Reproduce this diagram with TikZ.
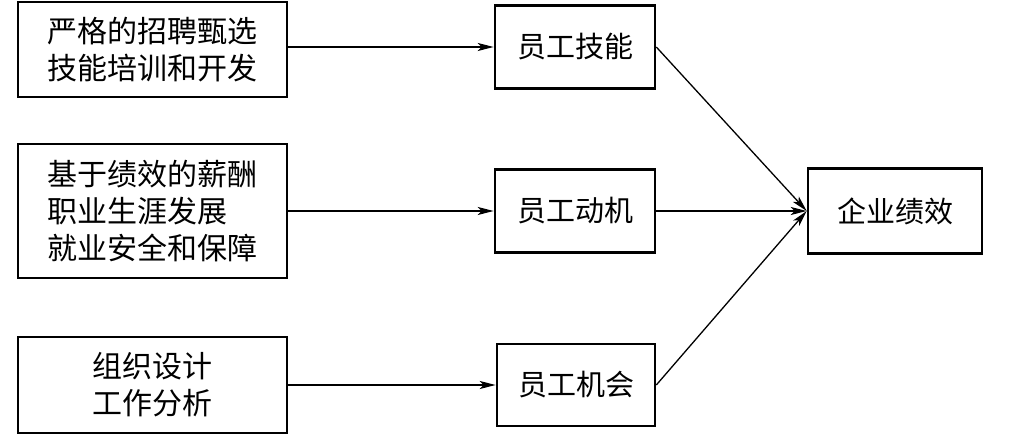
\documentclass[tikz,border=0pt]{standalone}
\usepackage{fontspec}
\setmainfont{Noto Sans CJK SC}
\usetikzlibrary{arrows.meta}
\begin{document}
\begin{tikzpicture}[x=1pt,y=-1pt,
  box/.style={draw,line width=2.6pt,inner sep=0pt,font=\fontsize{29}{37}\selectfont},
  leftbox/.style={box,font=\fontsize{30}{37}\selectfont},
  conn/.style={line width=1.3pt,-{Stealth[length=16pt,width=8pt,inset=4pt]}}]
\useasboundingbox (0,0) rectangle (1023,435);
\node[leftbox,minimum width=269pt,minimum height=95pt,align=left] (b1) at (152.5,49.5) {严格的招聘甄选\\技能培训和开发};
\node[leftbox,minimum width=269pt,minimum height=134pt,align=left] (b2) at (152.5,211) {基于绩效的薪酬\\职业生涯发展\\就业安全和保障};
\node[leftbox,minimum width=269pt,minimum height=96pt,align=center] (b3) at (152.5,385) {组织设计\\工作分析};
\node[box,minimum width=160pt,minimum height=83pt] (m1) at (575,47) {员工技能};
\node[box,minimum width=160pt,minimum height=83pt] (m2) at (575,211) {员工动机};
\node[box,minimum width=158pt,minimum height=82pt] (m3) at (576,385) {员工机会};
\node[box,minimum width=174pt,minimum height=85pt] (o) at (895,211) {企业绩效};
\draw[conn] (b1.east |- m1.west) -- (m1.west);
\draw[conn] (b2.east |- m2.west) -- (m2.west);
\draw[conn] (b3.east |- m3.west) -- (m3.west);
\draw[conn] (m1.east) -- (o.west);
\draw[conn] (m2.east) -- (o.west);
\draw[conn] (m3.east) -- (o.west);
\end{tikzpicture}
\end{document}
